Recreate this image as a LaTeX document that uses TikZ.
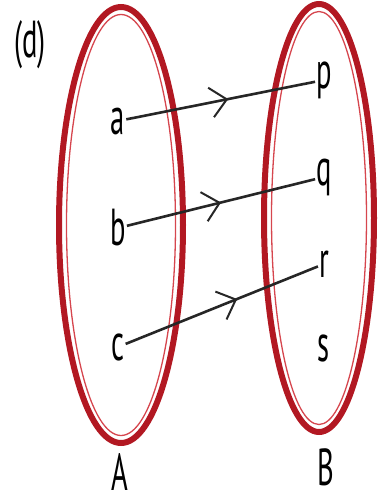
\documentclass[tikz,border=0pt]{standalone}
\usepackage{fontspec}
\setmainfont{PT Sans}
\usetikzlibrary{arrows.meta,decorations.markings}
\definecolor{setred}{RGB}{178,24,34}
\definecolor{setpink}{RGB}{214,70,78}
\tikzset{
    elem/.style={font=\fontsize{52}{56}\selectfont, xscale=0.55, transform shape, inner sep=2pt},
    setline/.style={draw=setred, line width=6pt},
    setinner/.style={draw=setpink, line width=1.3pt},
    maparrow/.style={line width=2.6pt, draw=black!85, postaction={decorate},
        decoration={markings, mark=at position #1 with {\arrow{Straight Barb[length=16pt,width=30pt,line width=2pt]}}}}
}
\begin{document}
\begin{tikzpicture}[x=1pt, y=-1pt]
    \useasboundingbox (0,0) rectangle (380,501);
    \draw[setline] (121,225) ellipse [x radius=62, y radius=218];
    \draw[setinner] (121,225) ellipse [x radius=54.5, y radius=210.5];
    \draw[setline] (319,218) ellipse [x radius=55, y radius=214];
    \draw[setinner] (319,218) ellipse [x radius=47.5, y radius=206.5];
    \node[elem] (lbl) at (30,45) {(d)};
    \node[elem] (a) at (118,121) {a};
    \node[elem] (b) at (118,228) {b};
    \node[elem] (c) at (118,347) {c};
    \node[elem] (p) at (324,80) {p};
    \node[elem] (q) at (324,177) {q};
    \node[elem] (r) at (324,264) {r};
    \node[elem] (s) at (324,348) {s};
    \node[elem] (setA) at (120,472) {A};
    \node[elem] (setB) at (326,467) {B};
    \draw[maparrow=0.54] (a) -- (p);
    \draw[maparrow=0.5] (b) -- (q);
    \draw[maparrow=0.58] (c) -- (r);
\end{tikzpicture}
\end{document}
